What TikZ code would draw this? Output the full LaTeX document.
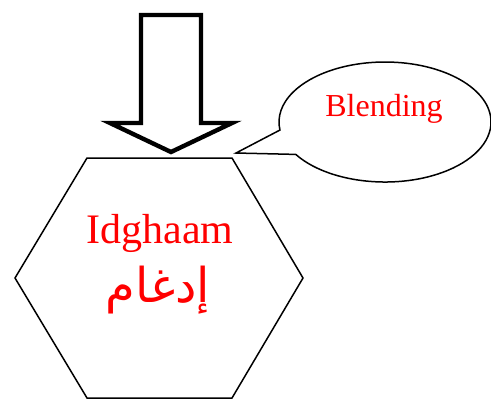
\documentclass[tikz,border=0pt]{standalone}
\usepackage{fontspec}
\setmainfont{Liberation Serif}
\newfontfamily\arabicfont[Script=Arabic]{DejaVu Sans}
\TeXXeTstate=1
\usepackage{tikz}
\usetikzlibrary{shapes,shapes.callouts,positioning,calc}
\usepackage{xcolor}
\definecolor{idred}{RGB}{255,0,0}
\tikzstyle{hexline} = [draw=black, line width=0.75pt, line join=miter]
\tikzstyle{bigarrow} = [draw=black, line width=2.2pt, line join=miter, fill=white]
\tikzstyle{redtext} = [text=idred, inner sep=0pt]

\begin{document}
\begin{tikzpicture}[x=0.5pt, y=-0.5pt]
\useasboundingbox (0,0) rectangle (491,404);

% Hexagon
\coordinate (h1) at (87,158);
\coordinate (h2) at (232,158);
\coordinate (h3) at (303,278);
\coordinate (h4) at (232,398);
\coordinate (h5) at (87,398);
\coordinate (h6) at (15,278);
\draw[hexline] (h1) -- (h2) -- (h3) -- (h4) -- (h5) -- (h6) -- cycle;
\node[redtext, font=\fontsize{21}{25}\selectfont] (idg) at (160,233) {Idghaam};
\node[redtext, font=\fontsize{24}{28}\selectfont] (idgar) at (158,290) {\arabicfont\beginR إدغام\endR};

% Block arrow
\coordinate (tip) at (171,152);
\draw[bigarrow] (141,15) -- (201,15) -- (201,123) -- (232,123) -- (tip) -- (110,123) -- (141,123) -- cycle;

% Callout
\node[ellipse callout, draw=black, line width=0.75pt, minimum width=106pt, minimum height=60pt, inner sep=0pt,
  callout absolute pointer={(236,153)}, callout pointer arc=25] (bub) at (385,122) {};
\node[redtext, font=\fontsize{16}{19}\selectfont] (blend) at (384,109) {Blending};
\end{tikzpicture}
\end{document}
